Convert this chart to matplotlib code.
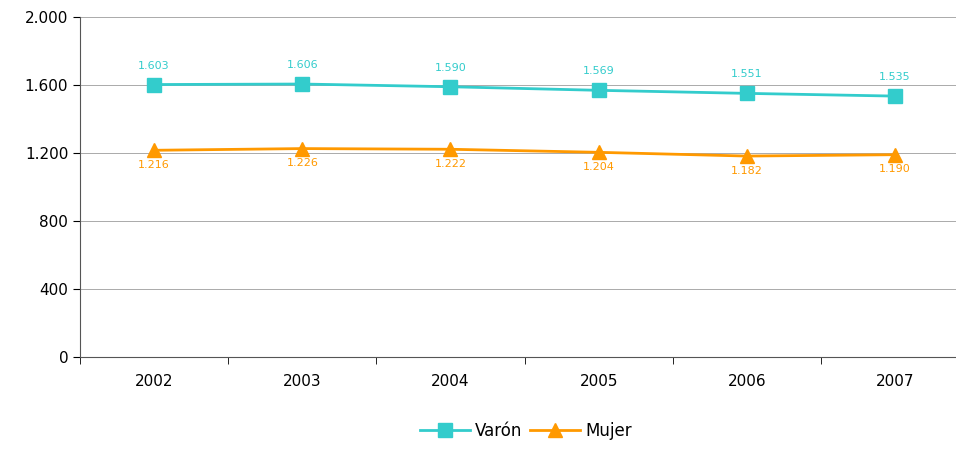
import matplotlib.pyplot as plt
from matplotlib.ticker import FuncFormatter

years = ["2002", "2003", "2004", "2005", "2006", "2007"]
varon = [1603, 1606, 1590, 1569, 1551, 1535]
mujer = [1216, 1226, 1222, 1204, 1182, 1190]

cyan = "#33CCCC"
orange = "#FF9900"


def miles(v, pos=None):
    return f"{int(v):,}".replace(",", ".")


fig = plt.figure(figsize=(9.56, 4.5), dpi=100)
ax = fig.add_axes([0.0837, 0.207, 0.93, 0.755])
x = range(len(years))

ax.plot(x, varon, color=cyan, lw=2, marker="s", ms=10, label="Varón", zorder=3)
ax.plot(x, mujer, color=orange, lw=2, marker="^", ms=10, label="Mujer", zorder=3)

for i, v in enumerate(varon):
    ax.annotate(miles(v), (i, v), xytext=(0, 10), textcoords="offset points",
                ha="center", va="bottom", color=cyan, fontsize=8)
for i, v in enumerate(mujer):
    ax.annotate(miles(v), (i, v), xytext=(0, -7), textcoords="offset points",
                ha="center", va="top", color=orange, fontsize=8)

ax.set_ylim(0, 2000)
ax.set_yticks(range(0, 2001, 400))
ax.yaxis.set_major_formatter(FuncFormatter(miles))
ax.set_xlim(-0.5, 5.5)
ax.set_xticks(list(x))
ax.set_xticklabels(years)
ax.set_xticks([i + 0.5 for i in range(-1, 6)], minor=True)
ax.tick_params(axis="x", which="major", length=0, pad=12, labelsize=11)
ax.tick_params(axis="x", which="minor", length=5, direction="out")
ax.tick_params(axis="y", labelsize=11, length=5)
ax.grid(axis="y", color="#aaaaaa", lw=0.7)
ax.set_axisbelow(True)
for s in ["top", "right"]:
    ax.spines[s].set_visible(False)
ax.spines["left"].set_color("#555555")
ax.spines["bottom"].set_color("#555555")

fig.legend(loc="lower center", bbox_to_anchor=(0.55, -0.01), ncol=2, frameon=False,
           fontsize=12, handlelength=3, columnspacing=0.5, handletextpad=0.3)

fig.savefig("out.png", dpi=100)
